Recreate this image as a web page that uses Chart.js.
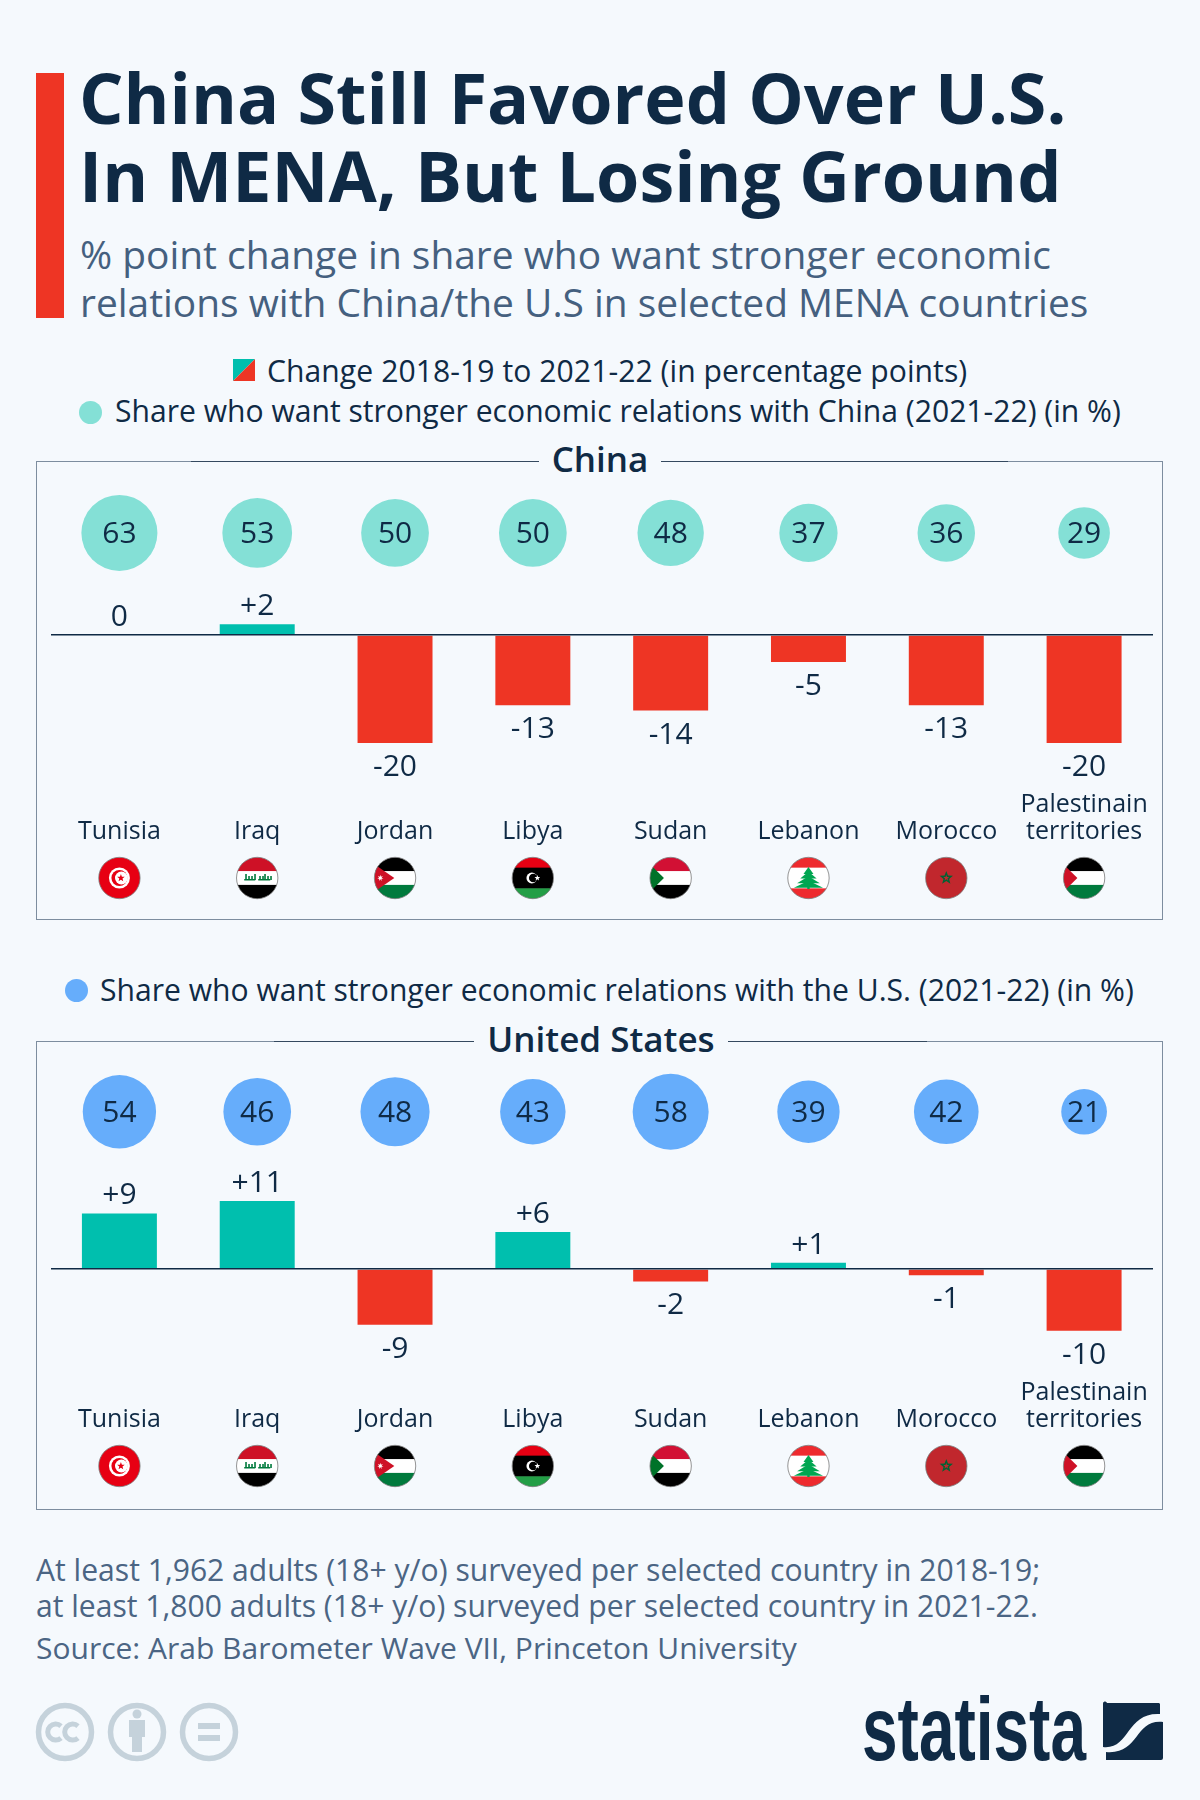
<!DOCTYPE html>
<html>
<head>
<meta charset="utf-8">
<script src="https://cdn.jsdelivr.net/npm/chart.js@4"></script>
<style>
  html,body{margin:0;padding:0;background:#f5f9fd;}
  body{width:1200px;height:1800px;position:relative;overflow:hidden;font-family:"Open Sans",sans-serif;color:#0f2a45;}
  .t{position:absolute;white-space:nowrap;}
  .panel{position:absolute;left:36px;width:1127px;border:1.5px solid #7d8d9f;box-sizing:border-box;}
  canvas{position:absolute;left:36px;}
  .line{position:absolute;height:1px;background:#34495f;}
  .ptitle{position:absolute;font-weight:600;font-size:35px;line-height:40px;text-align:center;white-space:nowrap;}
  .sub{color:#45607f;}
  .leg{font-size:30.1px;line-height:36px;}
  .foot{font-size:30.1px;line-height:36px;color:#4b6584;}
</style>
</head>
<body>
<div style="position:absolute;left:36px;top:73px;width:28px;height:245px;background:#ee3524"></div>
<div class="t" style="left:79px;top:58px;font-size:70px;line-height:78px;font-weight:700">China Still Favored Over U.S.<br>In MENA, But Losing Ground</div>
<div class="t sub" style="left:80px;top:230px;font-size:38.9px;line-height:47.7px">% point change in share who want stronger economic<br>relations with China/the U.S in selected MENA countries</div>

<svg style="position:absolute;left:233px;top:359px" width="22" height="22"><polygon points="0,0 22,0 0,22" fill="#00bfae"/><polygon points="22,0 22,22 0,22" fill="#ee3524"/></svg>
<div class="t leg" style="left:267px;top:353px;letter-spacing:.07px">Change 2018-19 to 2021-22 (in percentage points)</div>
<div style="position:absolute;left:79px;top:401px;width:23px;height:23px;border-radius:50%;background:#84e0d6"></div>
<div class="t leg" style="left:115px;top:393px">Share who want stronger economic relations with China (2021-22) (in %)</div>
<div style="position:absolute;left:65px;top:979px;width:23px;height:23px;border-radius:50%;background:#66adfb"></div>
<div class="t leg" style="left:100px;top:972px">Share who want stronger economic relations with the U.S. (2021-22) (in %)</div>

<div class="panel" style="top:461px;height:459px"></div>
<div class="line" style="left:191px;width:348px;top:461px"></div>
<div class="line" style="left:661px;width:347px;top:461px"></div>
<div class="ptitle" style="left:539px;width:122px;top:439px;background:#f5f9fd">China</div>
<canvas id="chinaChart" width="1128" height="459" style="top:461px"></canvas>

<div class="panel" style="top:1041px;height:469px"></div>
<div class="line" style="left:274px;width:200px;top:1041px"></div>
<div class="line" style="left:728px;width:199px;top:1041px"></div>
<div class="ptitle" style="left:474px;width:254px;top:1019px;background:#f5f9fd">United States</div>
<canvas id="usChart" width="1128" height="469" style="top:1041px"></canvas>

<div class="t foot" style="left:36px;top:1552px;line-height:35.5px">At least 1,962 adults (18+ y/o) surveyed per selected country in 2018-19;<br>at least 1,800 adults (18+ y/o) surveyed per selected country in 2021-22.</div>
<div class="t foot" style="left:36px;top:1630px;font-size:30px">Source: Arab Barometer Wave VII, Princeton University</div>

<svg style="position:absolute;left:30px;top:1697px" width="215" height="70">
  <g fill="none" stroke="#c5d2db" stroke-width="5.5">
    <circle cx="35" cy="35" r="26.5"/><circle cx="107" cy="35" r="26.5"/><circle cx="179" cy="35" r="26.5"/>
    <path d="M31 29a8 8 0 1 0 0 12M48 29a8 8 0 1 0 0 12" stroke-width="5"/>
  </g>
  <g fill="#c5d2db">
    <circle cx="107" cy="17" r="4.5"/>
    <rect x="99" y="23" width="16" height="17"/><rect x="102" y="38" width="10" height="17"/>
    <rect x="168" y="26" width="22" height="6"/><rect x="168" y="38" width="22" height="6"/>
  </g>
</svg>
<svg style="position:absolute;left:860px;top:1695px" width="310" height="75">
  <text x="2" y="65" font-family="Liberation Sans Narrow, Liberation Sans" font-weight="700" font-size="90" fill="#0f2a45" textLength="224" lengthAdjust="spacingAndGlyphs">statista</text>
  <path d="M247 8h52a2 2 0 0 1 1 1v10c-34 -2 -30 36 -57 33v-43a2 2 0 0 1 4 -1z M303 27v36a2 2 0 0 1 -2 2h-55v-8c34 3 28 -33 57 -30z" fill="#0f2a45"/>
</svg>

<script>
const countries = ["Tunisia", "Iraq", "Jordan", "Libya", "Sudan", "Lebanon", "Morocco", ["Palestinain", "territories"]];
const flagCodes = ["tn", "iq", "jo", "ly", "sd", "lb", "ma", "ps"];
const chinaChange = [0, 2, -20, -13, -14, -5, -13, -20];
const chinaShare = [63, 53, 50, 50, 48, 37, 36, 29];
const usChange = [9, 11, -9, 6, -2, 1, -1, -10];
const usShare = [54, 46, 48, 43, 58, 39, 42, 21];

const TEAL = "#00bfae", RED = "#ee3524", DARK = "#0f2a45";
const LABEL_FONT = "30px 'Open Sans'";

function star(ctx, x, y, r, n, color) {
  ctx.fillStyle = color;
  ctx.beginPath();
  for (let i = 0; i < n * 2; i++) {
    const rr = i % 2 ? r * 0.42 : r;
    const a = -Math.PI / 2 + i * Math.PI / n;
    ctx.lineTo(x + rr * Math.cos(a), y + rr * Math.sin(a));
  }
  ctx.closePath();
  ctx.fill();
}

function stripes(ctx, x, y, r, colors, shares) {
  let top = y - r;
  colors.forEach((c, i) => {
    ctx.fillStyle = c;
    ctx.fillRect(x - r, top, r * 2, shares[i] * r * 2 + 0.5);
    top += shares[i] * r * 2;
  });
}

function triangle(ctx, x, y, r, w, color) {
  ctx.fillStyle = color;
  ctx.beginPath();
  ctx.moveTo(x - r, y - r * 0.66);
  ctx.lineTo(x - r + w, y);
  ctx.lineTo(x - r, y + r * 0.66);
  ctx.closePath();
  ctx.fill();
}

function crescent(ctx, x, y, ro, ri, dx, fg, bg) {
  ctx.fillStyle = fg;
  ctx.beginPath(); ctx.arc(x, y, ro, 0, 7); ctx.fill();
  ctx.fillStyle = bg;
  ctx.beginPath(); ctx.arc(x + dx, y, ri, 0, 7); ctx.fill();
}

const third = [1/3, 1/3, 1/3];
function drawFlag(ctx, code, x, y, r) {
  ctx.save();
  ctx.beginPath();
  ctx.arc(x, y, r, 0, Math.PI * 2);
  ctx.clip();
  if (code === "tn") {
    ctx.fillStyle = "#e70013"; ctx.fillRect(x - r, y - r, r * 2, r * 2);
    ctx.fillStyle = "#fff"; ctx.beginPath(); ctx.arc(x, y, 10.5, 0, 7); ctx.fill();
    crescent(ctx, x, y, 8, 6.4, 2, "#e70013", "#fff");
    star(ctx, x + 1.5, y, 4, 5, "#e70013");
  } else if (code === "iq") {
    stripes(ctx, x, y, r, ["#ce1126", "#fff", "#000"], third);
    ctx.fillStyle = "#007a3d";
    [-12, -9, -6, -3, 2, 5, 7, 10, 13].forEach((d, i) => ctx.fillRect(x + d, y - (i % 3 === 0 ? 4 : 2), 1.6, i % 3 === 0 ? 6 : 4));
    ctx.fillRect(x - 13, y + 1, 11, 1.5);
    ctx.fillRect(x + 1, y + 1, 12, 1.5);
  } else if (code === "jo") {
    stripes(ctx, x, y, r, ["#000", "#fff", "#007a3d"], third);
    triangle(ctx, x, y, r, 20, "#ce1126");
    star(ctx, x - r + 6, y, 3.2, 7, "#fff");
  } else if (code === "ly") {
    stripes(ctx, x, y, r, ["#e70013", "#000", "#239e46"], [1/4, 1/2, 1/4]);
    crescent(ctx, x - 1, y, 5.4, 4.3, 1.4, "#fff", "#000");
    star(ctx, x + 4.5, y, 3, 5, "#fff");
  } else if (code === "sd") {
    stripes(ctx, x, y, r, ["#d21034", "#fff", "#000"], third);
    triangle(ctx, x, y, r, 14, "#007229");
  } else if (code === "lb") {
    stripes(ctx, x, y, r, ["#ee2a2e", "#fff", "#ee2a2e"], [1/4, 1/2, 1/4]);
    ctx.fillStyle = "#00a651";
    for (let i = 0; i < 4; i++) {
      const w = 5 + i * 3.2, top = y - 11 + i * 4.6;
      ctx.beginPath(); ctx.moveTo(x, top); ctx.lineTo(x + w, top + 7); ctx.lineTo(x - w, top + 7); ctx.closePath(); ctx.fill();
    }
    ctx.fillRect(x - 1.2, y + 5, 2.4, 6);
  } else if (code === "ma") {
    ctx.fillStyle = "#c1272d"; ctx.fillRect(x - r, y - r, r * 2, r * 2);
    star(ctx, x, y, 7, 5, "#006233");
    star(ctx, x, y, 3, 5, "#c1272d");
  } else {
    stripes(ctx, x, y, r, ["#000", "#fff", "#007a3d"], third);
    triangle(ctx, x, y, r, 14, "#ce1126");
  }
  ctx.restore();
  ctx.strokeStyle = "#7a7a7a";
  ctx.lineWidth = 0.8;
  ctx.beginPath();
  ctx.arc(x, y, r, 0, Math.PI * 2);
  ctx.stroke();
}

// value labels, bubble labels and the flags under the country names
const decorations = {
  id: "decorations",
  afterDraw(chart) {
    const ctx = chart.ctx;
    const bars = chart.getDatasetMeta(0).data;
    const bubbles = chart.getDatasetMeta(1).data;
    const changes = chart.data.datasets[0].data;
    const xScale = chart.scales.x;
    ctx.save();
    ctx.font = LABEL_FONT;
    ctx.fillStyle = DARK;
    ctx.textAlign = "center";
    ctx.textBaseline = "alphabetic";
    bars.forEach((bar, i) => {
      const v = changes[i];
      const text = v > 0 ? "+" + v : String(v);
      const y = v >= 0 ? bar.y - 9 : bar.y + 33;
      ctx.fillText(text, bar.x, y);
    });
    bubbles.forEach((b, i) => {
      ctx.fillText(String(chart.data.datasets[1].shares[i]), b.x, b.y + 10);
    });
    flagCodes.forEach((code, i) => {
      drawFlag(ctx, code, xScale.getPixelForTick(i), chart.chartArea.bottom + 97, 20.7);
    });
    ctx.restore();
  }
};

function makePanel(id, changes, shares, bubbleColor, bubbleScale, bubbleLevel, yMin, yMax, padBottom) {
  return new Chart(document.getElementById(id), {
    type: "bar",
    data: {
      labels: countries,
      datasets: [{
        type: "bar",
        data: changes,
        backgroundColor: changes.map(v => v >= 0 ? TEAL : RED),
        borderWidth: 0,
        barPercentage: 0.544,
        categoryPercentage: 1
      }, {
        type: "bubble",
        shares: shares,
        data: shares.map((v, i) => ({ x: i, y: bubbleLevel, r: bubbleScale * Math.sqrt(v) })),
        backgroundColor: bubbleColor,
        borderWidth: 0
      }]
    },
    options: {
      responsive: false,
      animation: false,
      events: [],
      layout: { autoPadding: false, padding: { left: 14.5, right: 11, top: 0, bottom: padBottom } },
      plugins: { legend: { display: false }, tooltip: { enabled: false } },
      scales: {
        x: {
          type: "category",
          offset: true,
          // invisible tick marks push the labels down; ticks.padding would squeeze the scale sideways
          grid: { drawOnChartArea: false, drawTicks: true, tickLength: 23.5, tickColor: "transparent", color: "transparent" },
          border: { display: false },
          afterFit(scale) { scale.height = 70; },
          ticks: {
            color: DARK,
            font: { family: "Open Sans", size: 25, lineHeight: 1.08 },
            padding: 0,
            crossAlign: "far",
            autoSkip: false,
            maxRotation: 0,
            minRotation: 0
          }
        },
        y: {
          min: yMin,
          max: yMax,
          border: { display: false },
          ticks: { display: false, stepSize: 10 },
          grid: {
            drawTicks: false,
            z: 1,
            lineWidth: 1.5,
            color: ctx => ctx.tick.value === 0 ? DARK : "transparent"
          }
        }
      }
    },
    plugins: [decorations]
  });
}

makePanel("chinaChart", chinaChange, chinaShare, "#84e0d6", 4.79, 18.9, -27.04, 32.22, 69);
makePanel("usChart", usChange, usShare, "#66adfb", 4.99, 25.45, -16.18, 36.9, 71);
</script>
</body>
</html>
